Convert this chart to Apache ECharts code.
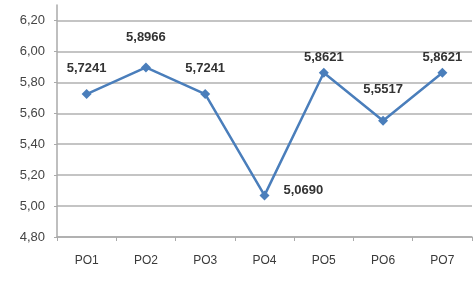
<!DOCTYPE html>
<html>
<head>
<meta charset="utf-8">
<script src="https://cdn.jsdelivr.net/npm/echarts@6/dist/echarts.min.js"></script>
<style>
  html, body { margin: 0; padding: 0; background: #fff; }
  #chart { width: 475px; height: 285px; }
</style>
</head>
<body>
<div id="chart"></div>
<script>
// categories and values
const categories = ['PO1', 'PO2', 'PO3', 'PO4', 'PO5', 'PO6', 'PO7']
const values = [5.7241, 5.8966, 5.7241, 5.0690, 5.8621, 5.5517, 5.8621]
const labelTexts = ['5,7241', '5,8966', '5,7241', '5,0690', '5,8621', '5,5517', '5,8621']

// where each value label sits relative to its point
const labelPos = ['top', 'top', 'top', 'right', 'top', 'top', 'top']
const labelGap = [14, 18, 14, 14, 4, 20, 4]

const chart = echarts.init(document.getElementById('chart'))

const seriesData = values.map((v, i) => ({
  value: v,
  label: {
    position: labelPos[i],
    distance: labelGap[i],
    offset: labelPos[i] === 'right' ? [0, -5] : [0, 0],
    formatter: labelTexts[i]
  }
}))

chart.setOption({
  animation: false,
  backgroundColor: '#fff',
  grid: { left: 57, right: 3, top: 5, bottom: 48 },
  xAxis: {
    type: 'category',
    data: categories,
    axisLine: { lineStyle: { color: '#aaa', width: 1.5 } },
    axisTick: { show: true, length: 4, lineStyle: { color: '#aaa' } },
    axisLabel: {
      margin: 18,
      color: '#3a3a3a',
      fontSize: 12,
      fontFamily: 'Liberation Sans'
    }
  },
  yAxis: {
    type: 'value',
    min: 4.8,
    max: 6.3,
    interval: 0.2,
    axisLine: { show: true, lineStyle: { color: '#aaa', width: 1.5 } },
    axisTick: { show: true, length: 3, lineStyle: { color: '#aaa' } },
    axisLabel: {
      margin: 12,
      color: '#444',
      fontSize: 13,
      fontFamily: 'Liberation Sans',
      showMaxLabel: false,
      formatter: v => v.toFixed(2).replace('.', ',')
    },
    splitLine: { showMaxLine: false, lineStyle: { color: '#c4c4c4', width: 2 } }
  },
  series: [
    {
      type: 'line',
      data: seriesData,
      symbol: 'diamond',
      symbolSize: 10,
      lineStyle: { color: '#4a7ebb', width: 2.5 },
      itemStyle: { color: '#4a7ebb' },
      label: {
        show: true,
        color: '#333',
        fontSize: 13,
        fontWeight: 'bold',
        fontFamily: 'Liberation Sans'
      }
    }
  ]
})
</script>
</body>
</html>
